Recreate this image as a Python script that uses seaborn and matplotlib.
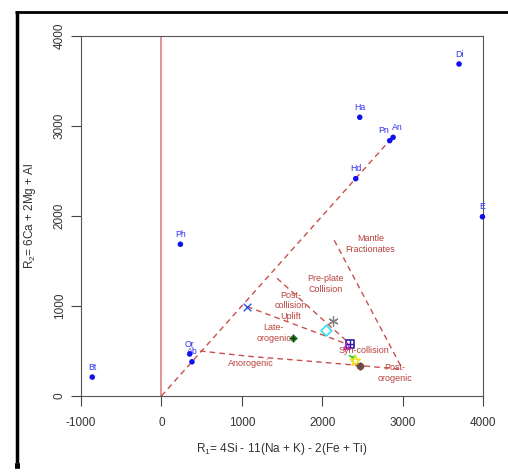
import matplotlib
matplotlib.use("Agg")
import matplotlib.pyplot as plt
import seaborn as sns
import pandas as pd
from matplotlib.lines import Line2D

# ---- data ----
mineral_names = ["Bt", "Ph", "Or", "Ab", "Ha", "Hd", "Pn", "An", "Di", "E"]
mineral_r1 = [-860, 236, 352, 380, 2467, 2417, 2840, 2882, 3702, 3993]
mineral_r2 = [210, 1686, 467, 380, 3097, 2415, 2837, 2874, 3689, 1992]

sample_r1 = [1066, 2135, 2052, 1638, 2342, 2309, 2372, 2413, 2467]
sample_r2 = [993, 837, 726, 641, 574, 555, 437, 389, 333]

# field boundaries (dashed)
b1_r1 = [0, 2850]
b1_r2 = [0, 2850]
b2_r1 = [480, 1100, 1800, 2450, 3000]
b2_r2 = [500, 440, 390, 340, 295]
b3_r1 = [1066, 2330]
b3_r2 = [993, 570]
b4_r1 = [1438, 2330]
b4_r2 = [1308, 590]
b5_r1 = [2150, 3000]
b5_r2 = [1730, 295]

field_labels = ["Mantle\nFractionates", "Pre-plate\nCollision", "Post-\ncollision\nUplift",
                "Late-\norogenic", "Anorogenic", "Syn-collision", "Post-\norogenic"]
field_r1 = [2600, 2040, 1604, 1397, 1107, 2516, 2902]
field_r2 = [1690, 1244, 1000, 700, 356, 511, 252]

xticks = [-1000, 0, 1000, 2000, 3000, 4000]
yticks = [0, 1000, 2000, 3000, 4000]

# ---- style ----
sns.set_style("white")
plt.rcParams["font.family"] = ["Liberation Sans", "DejaVu Sans"]
plt.rcParams["mathtext.fontset"] = "custom"
plt.rcParams["mathtext.rm"] = "Liberation Sans"
plt.rcParams["mathtext.it"] = "Liberation Sans"

fig = plt.figure(figsize=(5.08, 4.72), dpi=100)
ax = fig.add_axes([81 / 508, 1 - 396 / 472, (483 - 81) / 508, (396 - 36) / 472])

dash_col = "#C8504E"
lab_col = "#B8403C"

# vertical line at R1 = 0
ax.axvline(0, color="#E08A8A", lw=1.3, zorder=1)

# boundaries
for bx, by in [(b1_r1, b1_r2), (b2_r1, b2_r2), (b3_r1, b3_r2), (b4_r1, b4_r2), (b5_r1, b5_r2)]:
    sns.lineplot(x=bx, y=by, sort=False, ax=ax, color=dash_col, lw=1.0,
                 linestyle=(0, (4, 3)), estimator=None, zorder=2)

# minerals
mdf = pd.DataFrame({"R1": mineral_r1, "R2": mineral_r2, "name": mineral_names})
sns.scatterplot(data=mdf, x="R1", y="R2", ax=ax, color="#1010F0", s=16,
                edgecolor="none", zorder=4, clip_on=False)
label_dx = {"Pn": -70, "An": 50}
for n, x, y in zip(mineral_names, mineral_r1, mineral_r2):
    ax.text(x + label_dx.get(n, 0), y + 60, n, color="#3030F0", fontsize=6.3,
            ha="center", va="bottom", zorder=5, clip_on=False)

# samples
sdf = pd.DataFrame({"R1": sample_r1, "R2": sample_r2})
styles = [
    dict(marker="x", color="#3050E0", s=30, linewidths=1.0),
    dict(marker=(6, 2, 0), color="#808080", s=45, linewidths=0.9),
    dict(marker="D", facecolor="none", edgecolor="#30E0F0", s=30, linewidths=1.2),
    dict(marker="o", color="#2E8B2E", s=22, linewidths=0),
    dict(marker="s", facecolor="none", edgecolor="#3020A0", s=34, linewidths=1.2),
    dict(marker="^", facecolor="none", edgecolor="#E020E0", s=22, linewidths=1.0),
    dict(marker="1", color="#30D030", s=40, linewidths=1.2),
    dict(marker="*", facecolor="none", edgecolor="#F0E020", s=60, linewidths=1.2),
    dict(marker="o", color="#8B4A3A", s=30, linewidths=0),
]
for i, st in enumerate(styles):
    sns.scatterplot(data=sdf.iloc[[i]], x="R1", y="R2", ax=ax, zorder=3, legend=False, **st)
# plus overlays
for i in [3, 4, 8]:
    sns.scatterplot(data=sdf.iloc[[i]], x="R1", y="R2", ax=ax, zorder=3, legend=False,
                    marker="+", color="#505050" if i == 8 else ("#104010" if i == 3 else "#3020A0"),
                    s=26, linewidths=1.0)

# field labels
for t, x, y in zip(field_labels, field_r1, field_r2):
    ax.text(x, y, t, color=lab_col, fontsize=6.5, ha="center", va="center",
            linespacing=1.25, zorder=6)

# axes
ax.set_xlim(-1000, 4000)
ax.set_ylim(0, 4000)
ax.set_xticks(xticks)
ax.set_yticks(yticks)
ax.set_xticklabels([f"{v}" for v in xticks], fontsize=8.5, color="#333333")
ax.set_yticklabels([f"{v}" for v in yticks], fontsize=8.5, color="#333333",
                   rotation=90, va="center")
ax.tick_params(axis="both", direction="out", length=7, width=0.8, color="#444444",
               bottom=True, left=True)
ax.tick_params(axis="x", pad=8)
ax.tick_params(axis="y", pad=4)
for sp in ax.spines.values():
    sp.set_color("#555555")
    sp.set_linewidth(0.8)
ax.set_xlabel(r"R$_1$= 4Si - 11(Na + K) - 2(Fe + Ti)", fontsize=8.5, color="#333333",
              labelpad=9)
ax.set_ylabel(r"R$_2$= 6Ca + 2Mg + Al", fontsize=8.5, color="#333333")
ax.yaxis.set_label_coords(-(81 - 38) / 402, 0.5)

# screenshot frame
fig.add_artist(Line2D([16.5 / 508, 16.5 / 508], [1 - 11 / 472, 1 - 463 / 472],
                      transform=fig.transFigure, color="black", lw=2.5,
                      solid_capstyle="butt"))
fig.add_artist(Line2D([15 / 508, 1.0], [1 - 12 / 472, 1 - 12 / 472],
                      transform=fig.transFigure, color="black", lw=2.0,
                      solid_capstyle="butt"))
fig.add_artist(Line2D([15 / 508, 20 / 508], [1 - 466 / 472, 1 - 466 / 472],
                      transform=fig.transFigure, color="black", lw=4,
                      solid_capstyle="butt"))

fig.savefig("out.png", dpi=100)
